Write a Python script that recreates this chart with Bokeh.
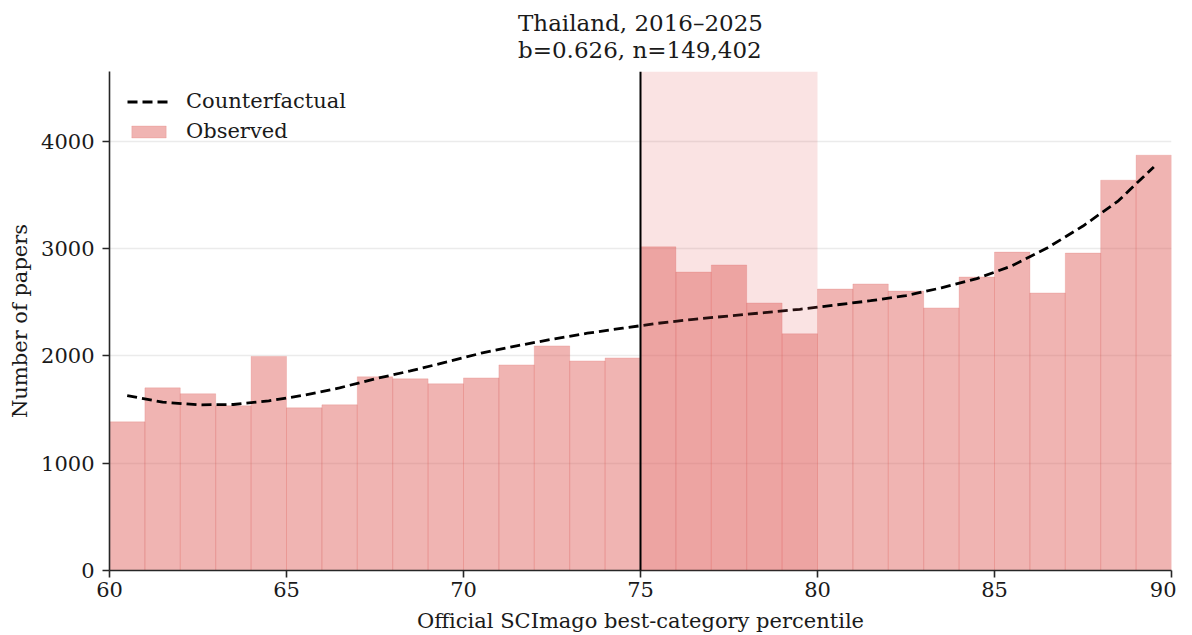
from bokeh.plotting import figure
from bokeh.models import Range1d, Span, BoxAnnotation, Legend, LegendItem, FixedTicker
from bokeh.embed import file_html
from bokeh.resources import INLINE

# ---- data ----
bin_left = [60, 61, 62, 63, 64, 65, 66, 67, 68, 69, 70, 71, 72, 73, 74,
            75, 76, 77, 78, 79, 80, 81, 82, 83, 84, 85, 86, 87, 88, 89]
observed = [1385, 1702, 1647, 1535, 1995, 1516, 1544, 1805, 1786, 1740,
            1795, 1916, 2093, 1953, 1981, 3016, 2781, 2847, 2493, 2206,
            2623, 2670, 2604, 2447, 2735, 2967, 2586, 2958, 3637, 3870]
cf_x = [60.5, 61.5, 62.5, 63.5, 64.5, 65.5, 66.5, 67.5, 68.5, 69.5,
        70.5, 71.5, 72.5, 73.5, 74.5, 75.5, 76.5, 77.5, 78.5, 79.5,
        80.5, 81.5, 82.5, 83.5, 84.5, 85.5, 86.5, 87.5, 88.5, 89.5]
cf_y = [1630, 1569, 1544, 1547, 1581, 1634, 1702, 1786, 1860, 1941,
        2025, 2093, 2155, 2211, 2258, 2304, 2341, 2372, 2403, 2434,
        2474, 2514, 2562, 2634, 2720, 2840, 3008, 3210, 3445, 3761]
threshold = 75
window_end = 80
x_ticks = [60, 65, 70, 75, 80, 85, 90]
y_ticks = [0, 1000, 2000, 3000, 4000]
title_line1 = "Thailand, 2016\u20132025"
title_line2 = "b=0.626, n=149,402"

FONT = "DejaVu Serif"
BAR = "#de5854"
TXT = "#1a1a1a"

p = figure(width=1176, height=635, output_backend="svg", toolbar_location=None,
           x_range=Range1d(60, 90), y_range=Range1d(0, 4650),
           min_border_left=109, min_border_right=5, min_border_top=0,
           min_border_bottom=40)
p.outline_line_color = None
p.background_fill_color = "white"
p.border_fill_color = "white"

p.title.text = title_line1 + "\n" + title_line2
p.title.align = "center"
p.title.text_font = FONT
p.title.text_font_size = "23px"
p.title.text_font_style = "normal"
p.title.text_color = TXT
p.title.text_line_height = 1.04
p.title.standoff = 16

bar_centers = [b + 0.5 for b in bin_left]
bars = p.vbar(x=bar_centers, top=observed, bottom=0, width=1.0,
              fill_color=BAR, fill_alpha=0.45, line_color=BAR, line_alpha=0.2, line_width=1)

box = BoxAnnotation(left=threshold, right=window_end, fill_color=BAR, fill_alpha=0.165,
                    line_color=None)
p.add_layout(box)

cf = p.line(cf_x, cf_y, line_color="black", line_width=2.8, line_dash="10 5")

vline = Span(location=threshold, dimension="height", line_color="black", line_width=2)
p.add_layout(vline)

legend = Legend(items=[LegendItem(label="Counterfactual", renderers=[cf]),
                       LegendItem(label="Observed", renderers=[bars])],
                location="top_left", border_line_color=None, background_fill_alpha=0,
                label_text_font=FONT, label_text_font_size="21px", label_text_color=TXT,
                glyph_width=43, glyph_height=15, label_standoff=16, spacing=6,
                padding=0, margin=18)
p.add_layout(legend)

for ax in (p.xaxis[0], p.yaxis[0]):
    ax.axis_line_color = "#262626"
    ax.axis_line_width = 1.6
    ax.major_tick_line_color = "#262626"
    ax.major_tick_line_width = 1.6
    ax.major_tick_out = 7
    ax.major_tick_in = 0
    ax.minor_tick_line_color = None
    ax.major_label_text_font = FONT
    ax.major_label_text_font_size = "21px"
    ax.major_label_text_color = TXT
    ax.axis_label_text_font = FONT
    ax.axis_label_text_font_size = "21px"
    ax.axis_label_text_font_style = "normal"
    ax.axis_label_text_color = TXT

p.xaxis.ticker = FixedTicker(ticks=x_ticks)
p.yaxis.ticker = FixedTicker(ticks=y_ticks)
p.xaxis.axis_label = "Official SCImago best-category percentile"
p.yaxis.axis_label = "Number of papers"
p.xaxis.major_label_standoff = 4
p.yaxis.major_label_standoff = 8
p.xaxis.axis_label_standoff = 9
p.yaxis.axis_label_standoff = 6

p.xgrid.grid_line_color = None
p.ygrid.grid_line_color = "#e6e6e6"
p.ygrid.grid_line_width = 1.3
p.ygrid.grid_line_alpha = 0.8

open("out.html", "w").write(file_html(p, INLINE))
